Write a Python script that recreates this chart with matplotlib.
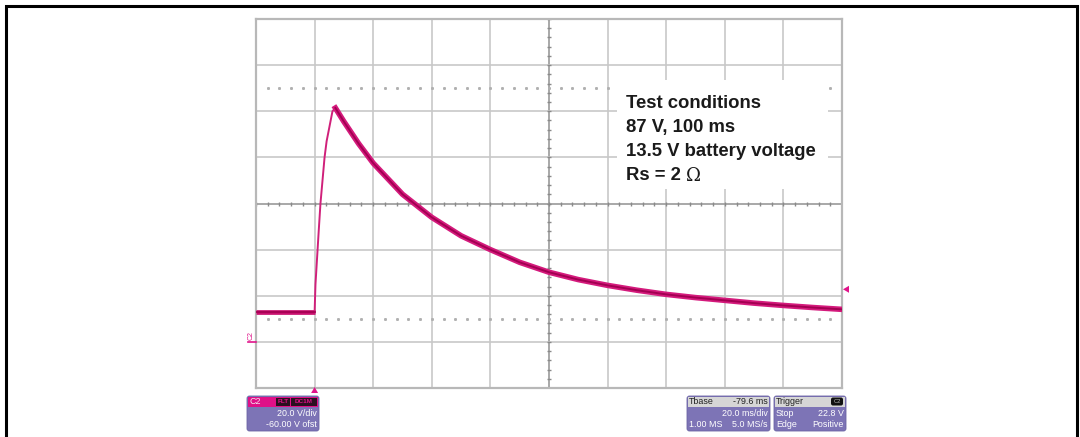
import numpy as np
import matplotlib
matplotlib.use("Agg")
import matplotlib.pyplot as plt
from matplotlib.patches import Rectangle, FancyBboxPatch, Polygon

plt.rcParams['font.family'] = ['Liberation Sans', 'DejaVu Sans']

# Kanał C2: czas [ms] od wyzwolenia i napięcie [V]
czas_ms = [-20, 0, 0.3, 1.4, 2.0, 3.4, 4.1, 6.1, 7.1, 10, 15, 20, 30, 40, 50,
           60, 70, 80, 90, 100, 110, 120, 130, 140, 150, 160, 170, 180]
napiecie_v = [12.8, 12.8, 25, 48, 60, 80, 87, 100, 101.4, 95.5, 86, 77.5, 64,
              54, 46, 40, 34.5, 30.2, 27, 24.5, 22.4, 20.6, 19.2, 18.0, 16.8,
              15.8, 14.9, 14.1]

# Ustawienia oscyloskopu
ms_na_dz = 20.0
v_na_dz = 20.0
offset_v = -60.0
poziom_wyzw = 22.8
kursory_v = [110, 10]

opis = ["Test conditions", "87 V, 100 ms", "13.5 V battery voltage", "Rs = 2 "]

W, H = 1080, 437
fig = plt.figure(figsize=(W / 100, H / 100), dpi=100)


def ax_px(x0, y0, x1, y1, **kw):
    # osie umieszczone w pikselach (od lewego górnego rogu)
    return fig.add_axes([x0 / W, 1 - y1 / H, (x1 - x0) / W, (y1 - y0) / H], **kw)


# --- ekran oscyloskopu ---
ax = ax_px(256, 19, 842, 388)
t_min, t_max = -ms_na_dz, 9 * ms_na_dz
v_srodek = -offset_v
v_min, v_max = v_srodek - 4 * v_na_dz, v_srodek + 4 * v_na_dz
ax.set_xlim(t_min, t_max)
ax.set_ylim(v_min, v_max)
ax.set_xticks([])
ax.set_yticks([])
for s in ax.spines.values():
    s.set_color('#b8b8b8')
    s.set_linewidth(1.6)

siatka = '#c8c8c8'
for k in range(1, 10):
    t = t_min + k * ms_na_dz
    ax.axvline(t, color='#9a9a9a' if k == 5 else siatka, lw=1.2, zorder=1)
for k in range(1, 8):
    v = v_min + k * v_na_dz
    ax.axhline(v, color='#9a9a9a' if k == 4 else siatka, lw=1.2, zorder=1)

# podziałka na osiach środkowych
t_srodek = t_min + 5 * ms_na_dz
dt_min = ms_na_dz / 5
dv_min = v_na_dz / 5
tt = np.arange(t_min, t_max + 0.01, dt_min)
vv = np.arange(v_min, v_max + 0.01, dv_min)
ax.plot(tt, np.full_like(tt, v_srodek), ls='none', marker='|', ms=3.5,
        mew=1.0, color='#8a8a8a', zorder=2)
ax.plot(np.full_like(vv, t_srodek), vv, ls='none', marker='_', ms=3.5,
        mew=1.0, color='#8a8a8a', zorder=2)

# kursory poziome (kropkowane)
for kv in kursory_v:
    ax.plot(tt[1:-1], np.full(len(tt) - 2, kv), ls='none', marker='s', ms=1.1,
            color='#b0b0b0', zorder=2)

# przebieg
t = np.array(czas_ms)
u = np.array(napiecie_v)
szczyt = int(np.argmax(u))
ax.plot(t[:2], u[:2], color='#c8106e', lw=3.4, solid_capstyle='butt', zorder=4)
ax.plot(t[1:szczyt + 1], u[1:szczyt + 1], color='#d0207a', lw=1.4, zorder=4)
ax.plot(t[szczyt:], u[szczyt:], color='#d41a7c', lw=4.0, zorder=4)
ax.plot(t[szczyt:], u[szczyt:], color='#a30052', lw=1.4, zorder=5)
ax.plot(t[:2], u[:2], color='#a30052', lw=1.2, zorder=5)

# --- warstwa z opisami w pikselach ---
ov = fig.add_axes([0, 0, 1, 1], zorder=10)
ov.set_xlim(0, W)
ov.set_ylim(H, 0)
ov.axis('off')
ov.patch.set_alpha(0)

# ramka rysunku
ov.plot([6, 6, 1077, 1077], [437, 5.5, 5.5, 437], color='black', lw=2.2,
        solid_joinstyle='miter')

# pole z warunkami testu
ov.add_patch(Rectangle((617, 80), 211, 109, facecolor='white', edgecolor='none'))
for i, linia in enumerate(opis):
    txt = ov.text(626, 103 + i * 24.3, linia, fontsize=13.3, fontweight='bold',
                  color='#1a1a1a', va='center', ha='left')
# symbol omu w kroju szeryfowym
ov.annotate('\u03a9', xy=(1, 0.5), xycoords=txt, xytext=(0, 0),
            textcoords='offset points', fontsize=13, family='DejaVu Serif',
            color='#1a1a1a', va='center', ha='left')

# znaczniki kanału i wyzwolenia
def y_px(v):
    return 19 + (v_max - v) / (v_max - v_min) * 369

def x_px(tm):
    return 256 + (tm - t_min) / (t_max - t_min) * 586

mag = '#e0148a'
ov.add_patch(Polygon([[x_px(0) - 3.5, 393], [x_px(0) + 3.5, 393], [x_px(0), 387]],
                     closed=True, color=mag, lw=0))
yw = y_px(poziom_wyzw)
ov.add_patch(Polygon([[843, yw], [849, yw - 3.5], [849, yw + 3.5]],
                     closed=True, color=mag, lw=0))
y0 = y_px(0)
ov.plot([248, 256], [y0, y0], color=mag, lw=1.2)
ov.text(251.5, y0 - 2, 'C2', fontsize=5, color=mag, rotation=90,
        ha='center', va='bottom')

# panele informacyjne
fiolet = '#7d74b6'


def panel(x0, x1, y0, y1, naglowek_kolor):
    ov.add_patch(FancyBboxPatch((x0, y0), x1 - x0, y1 - y0,
                                boxstyle='round,pad=0,rounding_size=2.5',
                                facecolor=fiolet, edgecolor='#6a62a4', lw=0.6))
    ov.add_patch(Rectangle((x0 + 1, y0 + 1), x1 - x0 - 2, 10,
                           facecolor=naglowek_kolor, edgecolor='none'))


fs = 6.4
panel(247, 319, 396, 431, '#e01088')
ov.text(250, 401.5, 'C2', fontsize=fs, color='#f4e6f0', va='center')
ov.add_patch(Rectangle((276, 397.5), 14, 8, facecolor='#2a1020', edgecolor='none'))
ov.add_patch(Rectangle((291, 397.5), 26, 8, facecolor='#2a1020', edgecolor='none'))
ov.text(283, 401.5, 'FLT', fontsize=4.6, color='#e01088', ha='center', va='center',
        fontweight='bold')
ov.text(304, 401.5, 'DC1M', fontsize=4.6, color='#e01088', ha='center', va='center',
        fontweight='bold')
ov.text(317, 413.5, f'{v_na_dz:.1f} V/div', fontsize=fs, color='white',
        ha='right', va='center')
ov.text(317, 424.5, f'{offset_v:.2f} V ofst', fontsize=fs, color='white',
        ha='right', va='center')

panel(687, 770, 396, 431, '#d6d6d6')
ov.text(689, 401.5, 'Tbase', fontsize=fs, color='#222222', va='center')
ov.text(768, 401.5, '-79.6 ms', fontsize=fs, color='#222222', ha='right', va='center')
ov.text(768, 413.5, f'{ms_na_dz:.1f} ms/div', fontsize=fs, color='white',
        ha='right', va='center')
ov.text(689, 424.5, '1.00 MS', fontsize=fs, color='white', va='center')
ov.text(768, 424.5, '5.0 MS/s', fontsize=fs, color='white', ha='right', va='center')

panel(774, 846, 396, 431, '#d6d6d6')
ov.text(776, 401.5, 'Trigger', fontsize=fs, color='#222222', va='center')
ov.add_patch(FancyBboxPatch((831, 397.5), 12, 8, boxstyle='round,pad=0,rounding_size=2',
                            facecolor='#111111', edgecolor='none'))
ov.text(837, 401.5, 'C2', fontsize=4.2, color='#bbbbbb', ha='center', va='center')
ov.text(776, 413.5, 'Stop', fontsize=fs, color='white', va='center')
ov.text(844, 413.5, f'{poziom_wyzw:.1f} V', fontsize=fs, color='white',
        ha='right', va='center')
ov.text(776, 424.5, 'Edge', fontsize=fs, color='white', va='center')
ov.text(844, 424.5, 'Positive', fontsize=fs, color='white', ha='right', va='center')

fig.savefig('out.png', dpi=100)
